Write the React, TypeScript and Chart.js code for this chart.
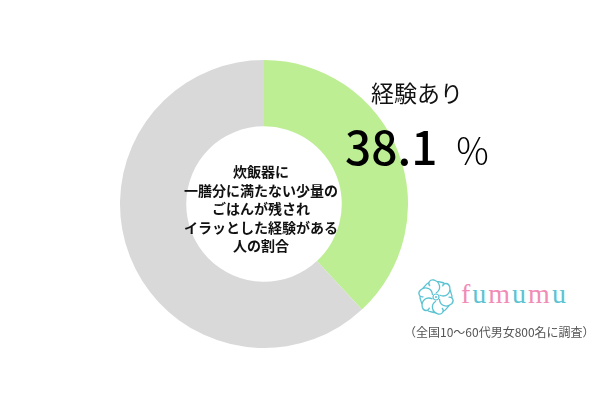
import React, { useEffect, useRef } from "react";
import { Chart, registerables } from "chart.js";

Chart.register(...registerables);

const categories: string[] = ["経験あり", "経験なし"];
const values: number[] = [38.1, 61.9];
const colors: string[] = ["#bdee93", "#d9d9d9"];
const centerLines: string[] = [
  "炊飯器に",
  "一膳分に満たない少量の",
  "ごはんが残され",
  "イラッとした経験がある",
  "人の割合",
];
const highlightLabel = "経験あり";
const highlightValue = "38.1";
const note = "（全国10～60代男女800名に調査）";
const brandLetters: string[] = ["f", "u", "m", "u", "m", "u"];
const brandColors: string[] = ["#f08cb6", "#5cc3d3", "#f08cb6", "#5cc3d3", "#f08cb6", "#5cc3d3"];

const JP = '"Noto Sans CJK JP", "Noto Sans", sans-serif';

function Flower() {
  const petals = [0, 60, 120, 180, 240, 300];
  return (
    <svg width="40" height="38" viewBox="-20 -19 40 38" style={{ position: "absolute", left: 416, top: 278 }}>
      {petals.map((a) => (
        <g key={a} transform={`rotate(${a})`}>
          <path
            d="M0,-4 C6,-8 4,-15 -2,-17 C-6,-18 -9,-14 -6,-11 M-2,-17 C2,-14 7,-16 9,-13"
            fill="none"
            stroke="#5cc3d3"
            strokeWidth="1.3"
          />
        </g>
      ))}
      <circle cx="0" cy="0" r="3" fill="none" stroke="#5cc3d3" strokeWidth="1.2" />
      <circle cx="0" cy="0" r="1" fill="#5cc3d3" />
    </svg>
  );
}

export default function App() {
  const ref = useRef<HTMLCanvasElement | null>(null);
  useEffect(() => {
    if (!ref.current) return;
    const chart = new Chart(ref.current, {
      type: "doughnut",
      data: {
        labels: categories,
        datasets: [
          {
            data: values,
            backgroundColor: colors,
            borderWidth: 0,
          },
        ],
      },
      options: {
        responsive: false,
        animation: false,
        cutout: "54%",
        rotation: 0,
        layout: { padding: 0 },
        plugins: {
          legend: { display: false },
          tooltip: { enabled: false },
        },
      },
    });
    return () => chart.destroy();
  }, []);

  return (
    <div
      style={{
        position: "absolute",
        left: 0,
        top: 0,
        width: 600,
        height: 400,
        background: "#ffffff",
        overflow: "hidden",
        fontFamily: JP,
      }}
    >
      <canvas
        ref={ref}
        width={288}
        height={288}
        style={{ position: "absolute", left: 120, top: 60, width: 288, height: 288 }}
      />
      <div
        style={{
          position: "absolute",
          left: 161,
          top: 162,
          width: 200,
          textAlign: "center",
          fontSize: 14,
          fontWeight: 700,
          lineHeight: "18.5px",
          color: "#111",
        }}
      >
        {centerLines.map((l, i) => (
          <div key={i}>{l}</div>
        ))}
      </div>
      <div
        style={{
          position: "absolute",
          left: 371,
          top: 75,
          fontSize: 23,
          color: "#111",
          whiteSpace: "nowrap",
          lineHeight: "34px",
        }}
      >
        {highlightLabel}
      </div>
      <div
        style={{
          position: "absolute",
          left: 345,
          top: 115,
          whiteSpace: "nowrap",
          color: "#000",
          lineHeight: "60px",
        }}
      >
        <span style={{ fontSize: 46, fontWeight: 500 }}>{highlightValue}</span>
        <span style={{ fontSize: 36, fontWeight: 300, marginLeft: 17 }}>％</span>
      </div>
      <Flower />
      <div
        style={{
          position: "absolute",
          left: 461,
          top: 276,
          fontFamily: '"Liberation Serif", "DejaVu Serif", serif',
          fontSize: 28,
          letterSpacing: 2,
          whiteSpace: "nowrap",
          lineHeight: "36px",
        }}
      >
        {brandLetters.map((c, i) => (
          <span key={i} style={{ color: brandColors[i] }}>
            {c}
          </span>
        ))}
      </div>
      <div
        style={{
          position: "absolute",
          left: 404,
          top: 322,
          fontSize: 12,
          color: "#555",
          whiteSpace: "nowrap",
          lineHeight: "20px",
        }}
      >
        {note}
      </div>
    </div>
  );
}
